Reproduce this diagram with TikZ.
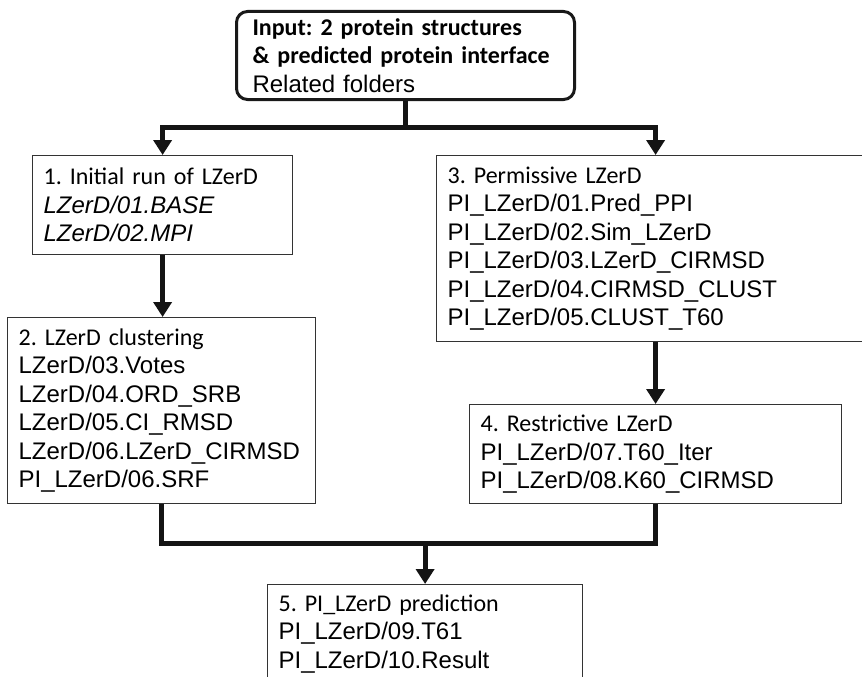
\documentclass[tikz,border=0pt]{standalone}
\usepackage{fontspec}
\setmainfont{Liberation Sans}
\newfontfamily\hd{Carlito}
\usetikzlibrary{arrows.meta,calc}
\begin{document}
\frenchspacing
\begin{tikzpicture}[x=1pt,y=-1pt,
  box/.style={draw=black!80, line width=1.2pt, anchor=north west, align=left,
    inner xsep=11pt, inner ysep=0pt, font=\frenchspacing\fontsize{24}{28.5}\selectfont},
  conn/.style={draw=black!92, line width=5pt},
  tip/.tip={Triangle[width=18pt,length=15pt]}]
\useasboundingbox (0,0) rectangle (862,677);
\clip (0,0) rectangle (862,677);
\node[box, draw=black!90, line width=3pt, rounded corners=11pt, inner xsep=16pt, minimum width=338pt, minimum height=88pt, text width=306pt] (top) at (235,10)
  {\hd\bfseries Input: 2 protein structures\\ \& predicted protein interface\\ \normalfont Related folders};
\node[box, minimum width=260pt, minimum height=99pt, text width=238pt] (b1) at (32,155)
  {{\hd 1. Initial run of LZerD}\\ \itshape LZerD/01.BASE\\ \itshape LZerD/02.MPI};
\node[box, minimum width=308pt, minimum height=186pt, text width=286pt] (b2) at (7,317)
  {{\hd 2. LZerD clustering}\\ LZerD/03.Votes\\ LZerD/04.ORD\_SRB\\ LZerD/05.CI\_RMSD\\ LZerD/06.LZerD\_CIRMSD\\ PI\_LZerD/06.SRF};
\node[box, minimum width=438pt, minimum height=186pt, text width=416pt] (b3) at (436,155)
  {{\hd 3. Permissive LZerD}\\ PI\_LZerD/01.Pred\_PPI\\ PI\_LZerD/02.Sim\_LZerD\\ PI\_LZerD/03.LZerD\_CIRMSD\\ PI\_LZerD/04.CIRMSD\_CLUST\\ PI\_LZerD/05.CLUST\_T60};
\node[box, minimum width=372pt, minimum height=99pt, text width=350pt] (b4) at (469,404)
  {{\hd 4. Restrictive LZerD}\\ PI\_LZerD/07.T60\_Iter\\ PI\_LZerD/08.K60\_CIRMSD};
\node[box, minimum width=315pt, minimum height=98pt, text width=293pt] (b5) at (267,584)
  {{\hd 5. PI\_LZerD prediction}\\ PI\_LZerD/09.T61\\ PI\_LZerD/10.Result};
\coordinate (ya) at (0,127);
\coordinate (yb) at (0,543);
\coordinate (j1) at (top.south |- ya);
\coordinate (j2) at (b5.north |- yb);
\draw[conn] (top.south) -- (j1);
\draw[conn, tip-tip] (b1.north) |- (j1) -| (b3.north);
\draw[conn, -tip] (b1.south) -- (b1.south |- b2.north);
\draw[conn, -tip] (b3.south) -- (b3.south |- b4.north);
\draw[conn] (b2.south) |- (j2) -| (b4.south);
\draw[conn, -tip] (j2) -- (b5.north);
\end{tikzpicture}
\end{document}
